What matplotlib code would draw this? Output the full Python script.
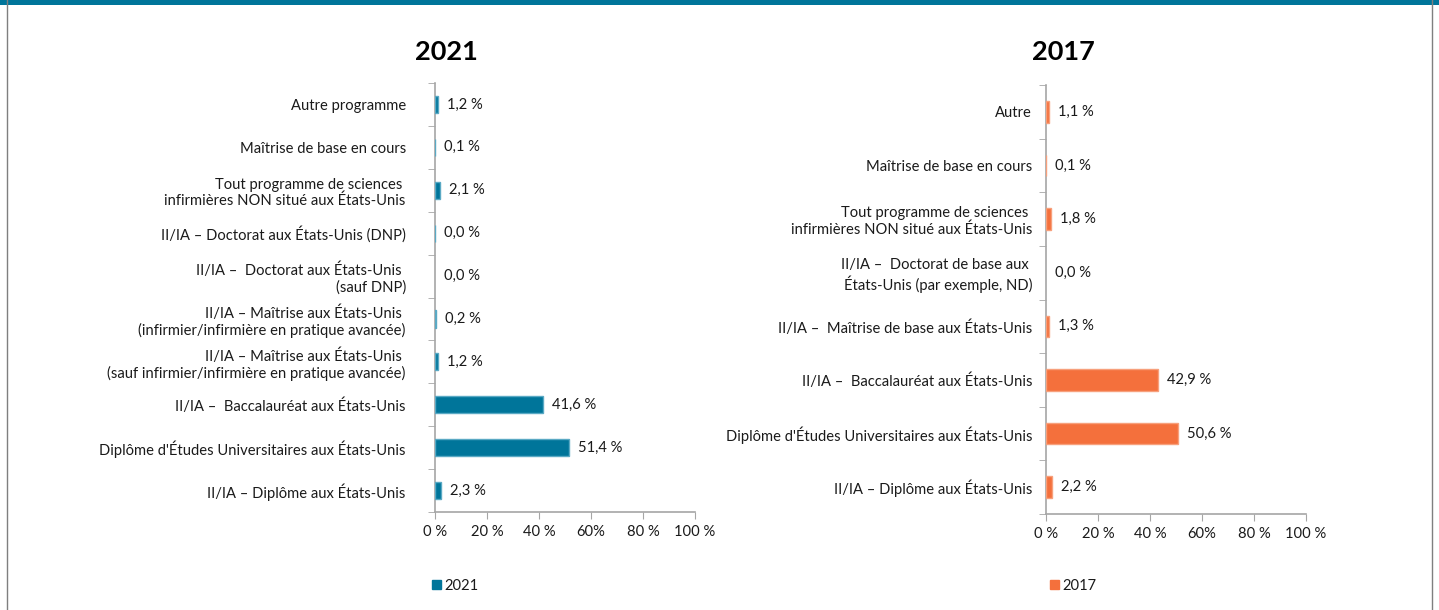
import matplotlib
matplotlib.use('Agg')
import matplotlib.pyplot as plt
from matplotlib.patches import Patch, Rectangle
from matplotlib.lines import Line2D

# données 2021 (du haut vers le bas)
cats_2021 = [
    "Autre programme",
    "Maîtrise de base en cours",
    "Tout programme de sciences \ninfirmières NON situé aux États-Unis",
    "II/IA – Doctorat aux États-Unis (DNP)",
    "II/IA –  Doctorat aux États-Unis \n(sauf DNP)",
    "II/IA – Maîtrise aux États-Unis \n(infirmier/infirmière en pratique avancée)",
    "II/IA – Maîtrise aux États-Unis \n(sauf infirmier/infirmière en pratique avancée)",
    "II/IA –  Baccalauréat aux États-Unis",
    "Diplôme d'Études Universitaires aux États-Unis",
    "II/IA – Diplôme aux États-Unis",
]
vals_2021 = [1.2, 0.1, 2.1, 0.04, 0.0, 0.2, 1.2, 41.6, 51.4, 2.3]

# données 2017
cats_2017 = [
    "Autre",
    "Maîtrise de base en cours",
    "Tout programme de sciences \ninfirmières NON situé aux États-Unis",
    "II/IA –  Doctorat de base aux \nÉtats-Unis (par exemple, ND)",
    "II/IA –  Maîtrise de base aux États-Unis",
    "II/IA –  Baccalauréat aux États-Unis",
    "Diplôme d'Études Universitaires aux États-Unis",
    "II/IA – Diplôme aux États-Unis",
]
vals_2017 = [1.1, 0.1, 1.8, 0.0, 1.3, 42.9, 50.6, 2.2]

xticks = [0, 20, 40, 60, 80, 100]
xtick_labels = ["0 %", "20 %", "40 %", "60%", "80 %", "100 %"]

plt.rcParams['font.family'] = ['Lato', 'DejaVu Sans']
TXT = '#1a1a1a'
AXC = '#a6a6a6'
FS = 10.6

fig = plt.figure(figsize=(14.39, 6.10), dpi=100)
W, H = 1439, 610


def panel(rect, cats, vals, color, edge, year, pad, title_x, leg_x):
    ax = fig.add_axes(rect)
    n = len(cats)
    pos = list(range(n))
    bars = ax.barh(pos, vals, height=0.4, color=color, edgecolor=edge, linewidth=1.0, zorder=3)
    for b, v in zip(bars, vals):
        if v == 0:
            b.set_visible(False)
    ax.set_ylim(n - 0.5, -0.5)
    ax.set_xlim(0, 100)
    ax.set_yticks(pos)
    ax.set_yticklabels(cats, fontsize=FS, color=TXT, multialignment='right')
    ax.set_yticks([i - 0.5 for i in range(n + 1)], minor=True)
    ax.tick_params(axis='y', which='major', length=0, pad=pad)
    ax.tick_params(axis='y', which='minor', length=5, color=AXC, direction='out')
    ax.set_xticks(xticks)
    ax.set_xticklabels(xtick_labels, fontsize=FS, color=TXT)
    ax.tick_params(axis='x', length=5, color=AXC, pad=4)
    for s in ['top', 'right']:
        ax.spines[s].set_visible(False)
    for s in ['left', 'bottom']:
        ax.spines[s].set_color(AXC)
        ax.spines[s].set_linewidth(1.2)
    for i, v in enumerate(vals):
        ax.annotate(f"{v:.1f}".replace('.', ',') + " %", (v, i), xytext=(6.5, 0),
                    textcoords='offset points', va='center', ha='left',
                    fontsize=FS, color=TXT)
    fig.text(title_x / W, 1 - 52 / H, year, fontsize=19.5, fontweight='bold',
             ha='center', va='center', color='black')
    ax.legend(handles=[Patch(facecolor=color, edgecolor=color)], labels=[year],
              loc='center left', bbox_to_anchor=(leg_x / W, 1 - 586 / H),
              bbox_transform=fig.transFigure, frameon=False, fontsize=FS,
              handlelength=0.6, handleheight=0.6, handletextpad=0.2, borderpad=0,
              labelcolor=TXT)
    return ax


panel([435 / W, 1 - 512 / H, 260 / W, 429 / H], cats_2021, vals_2021, '#00759a', '#5aa9c4',
      '2021', 21, 446, 425)
panel([1046 / W, 1 - 514 / H, 260 / W, 429 / H], cats_2017, vals_2017, '#f4703c', '#f7a07c',
      '2017', 10, 1063, 1043)

# cadre
fig.add_artist(Rectangle((0, 1 - 5 / H), 1, 5 / H, transform=fig.transFigure,
                         color='#00759a', lw=0))
fig.add_artist(Line2D([7 / W, 7 / W], [0, 1], transform=fig.transFigure, color='#7f7f7f', lw=1))
fig.add_artist(Line2D([1432 / W, 1432 / W], [0, 1], transform=fig.transFigure, color='#7f7f7f', lw=1))

fig.savefig('out.png', dpi=100)
